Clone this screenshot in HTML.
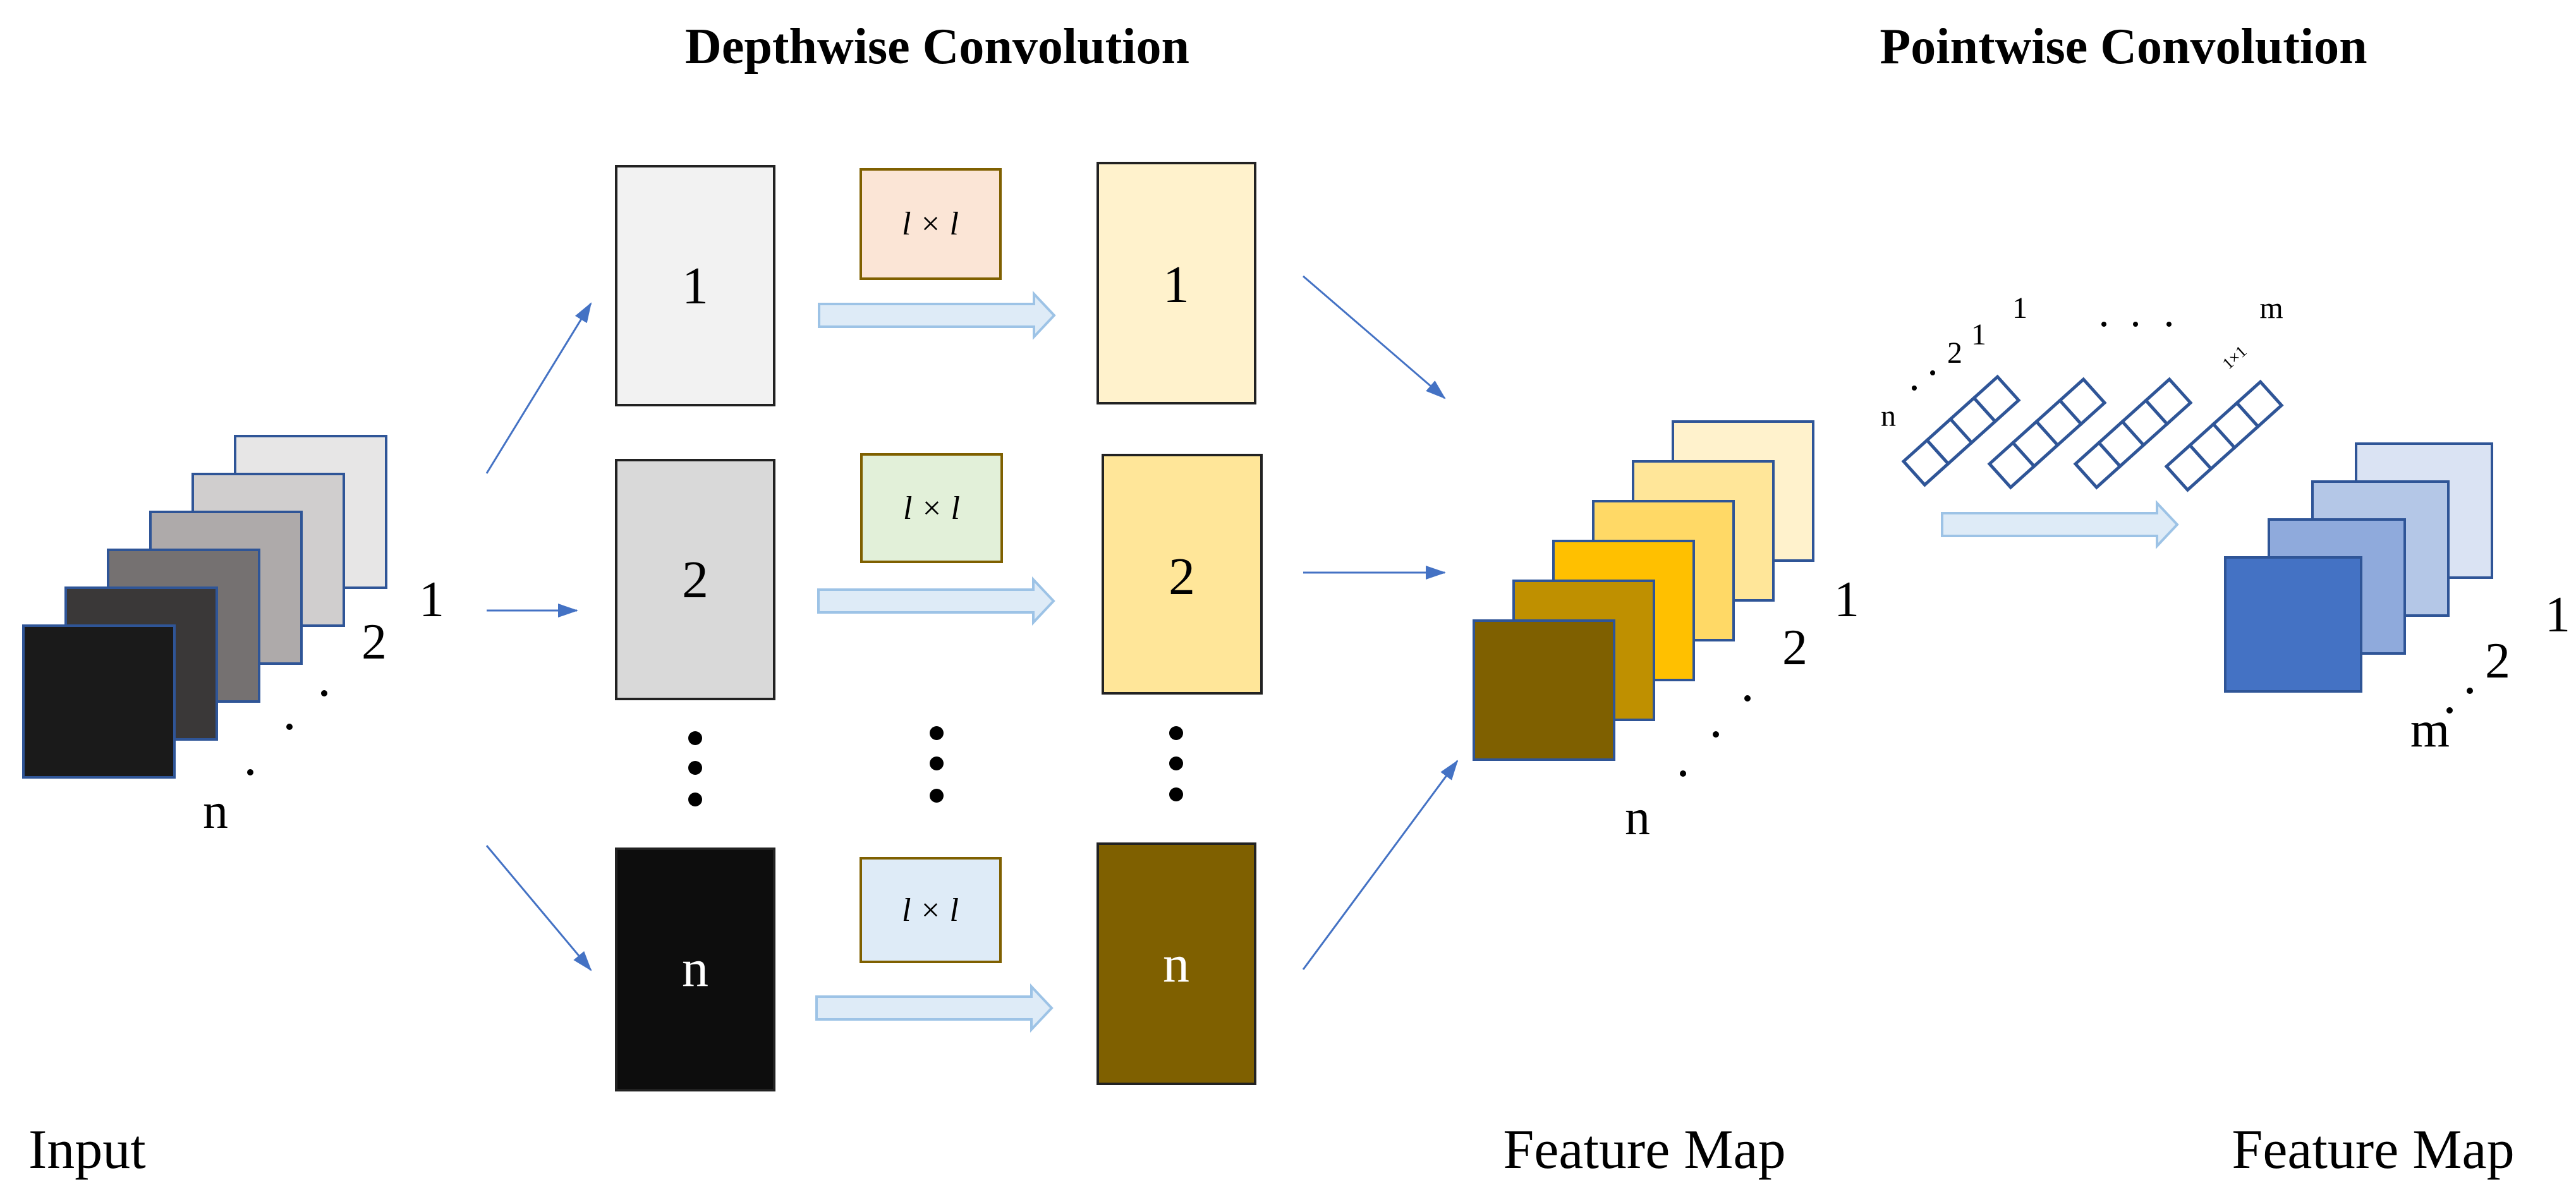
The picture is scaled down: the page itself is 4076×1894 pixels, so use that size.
<!DOCTYPE html>
<html><head><meta charset="utf-8"><style>
html,body{margin:0;padding:0;background:#fff}
svg{display:block}
text{font-family:"Liberation Serif",serif;fill:#000}
</style></head><body>
<svg width="4076" height="1894" viewBox="0 0 4076 1894" xmlns="http://www.w3.org/2000/svg">
<defs>
<marker id="ah" viewBox="0 0 32 22" refX="30" refY="11" markerWidth="32" markerHeight="22" orient="auto" markerUnits="userSpaceOnUse">
<path d="M0,0 L32,11 L0,22 z" fill="#4472c4"/>
</marker>
<g id="fat">
<path d="M0,-18 L340,-18 L340,-34 L372,0 L340,34 L340,18 L0,18 z" fill="#deebf7" stroke="#9dc3e6" stroke-width="4"/>
</g>
<g id="strip">
<rect x="0" y="0" width="50" height="50" fill="#fff" stroke="#2f5597" stroke-width="5"/>
<rect x="50" y="0" width="50" height="50" fill="#fff" stroke="#2f5597" stroke-width="5"/>
<rect x="100" y="0" width="50" height="50" fill="#fff" stroke="#2f5597" stroke-width="5"/>
<rect x="150" y="0" width="50" height="50" fill="#fff" stroke="#2f5597" stroke-width="5"/>
</g>
</defs>

<!-- Titles -->
<text x="1483" y="100" font-size="80" font-weight="bold" text-anchor="middle">Depthwise Convolution</text>
<text x="3360" y="100" font-size="80" font-weight="bold" text-anchor="middle">Pointwise Convolution</text>

<!-- Input stack -->
<g stroke="#2f5597" stroke-width="4">
<rect x="372" y="690" width="239" height="240" fill="#e7e6e6"/>
<rect x="305" y="750" width="239" height="240" fill="#d0cece"/>
<rect x="238" y="810" width="239" height="240" fill="#aeaaaa"/>
<rect x="171" y="870" width="239" height="240" fill="#757171"/>
<rect x="104" y="930" width="239" height="240" fill="#3a3838"/>
<rect x="37" y="990" width="239" height="240" fill="#1a1a1a"/>
</g>
<text x="683" y="975" font-size="80" text-anchor="middle">1</text>
<text x="592" y="1042" font-size="80" text-anchor="middle">2</text>
<circle cx="513" cy="1097" r="5"/><circle cx="458" cy="1150" r="5"/><circle cx="396" cy="1222" r="5"/>
<text x="341" y="1310" font-size="80" text-anchor="middle">n</text>

<!-- input arrows -->
<g stroke="#4472c4" stroke-width="3" marker-end="url(#ah)">
<line x1="770" y1="749" x2="935" y2="480"/>
<line x1="770" y1="966" x2="913" y2="966"/>
<line x1="770" y1="1338" x2="935" y2="1535"/>
</g>

<!-- Column 1 -->
<g stroke="#222" stroke-width="4">
<rect x="975" y="263" width="250" height="378" fill="#f2f2f2"/>
<rect x="975" y="728" width="250" height="378" fill="#d9d9d9"/>
<rect x="975" y="1343" width="250" height="382" fill="#0d0d0d"/>
</g>
<text x="1100" y="480" font-size="84" text-anchor="middle">1</text>
<text x="1100" y="945" font-size="84" text-anchor="middle">2</text>
<text x="1100" y="1560" font-size="84" text-anchor="middle" style="fill:#fff">n</text>
<circle cx="1100" cy="1168" r="11"/><circle cx="1100" cy="1215" r="11"/><circle cx="1100" cy="1265" r="11"/>

<!-- kernels -->
<g stroke="#7f6000" stroke-width="4">
<rect x="1362" y="268" width="221" height="173" fill="#fbe5d6"/>
<rect x="1363" y="719" width="222" height="170" fill="#e2f0d9"/>
<rect x="1362" y="1358" width="221" height="164" fill="#deebf7"/>
</g>
<g font-size="52" font-style="italic" text-anchor="middle">
<text x="1472" y="371">l × l</text>
<text x="1474" y="821">l × l</text>
<text x="1472" y="1457">l × l</text>
</g>
<circle cx="1482" cy="1160" r="11"/><circle cx="1482" cy="1208" r="11"/><circle cx="1482" cy="1259" r="11"/>

<use href="#fat" x="1296" y="499"/>
<use href="#fat" x="1295" y="951"/>
<use href="#fat" x="1292" y="1595"/>

<!-- Column 2 -->
<g stroke="#222" stroke-width="4">
<rect x="1737" y="258" width="249" height="380" fill="#fff2cc"/>
<rect x="1745" y="720" width="251" height="377" fill="#ffe699"/>
<rect x="1737" y="1335" width="249" height="380" fill="#7f6000"/>
</g>
<text x="1861" y="478" font-size="84" text-anchor="middle">1</text>
<text x="1870" y="940" font-size="84" text-anchor="middle">2</text>
<text x="1861" y="1553" font-size="84" text-anchor="middle" style="fill:#fff">n</text>
<circle cx="1861" cy="1160" r="11"/><circle cx="1861" cy="1208" r="11"/><circle cx="1861" cy="1257" r="11"/>

<!-- arrows to feature map -->
<g stroke="#4472c4" stroke-width="3" marker-end="url(#ah)">
<line x1="2062" y1="437" x2="2286" y2="630"/>
<line x1="2062" y1="906" x2="2286" y2="906"/>
<line x1="2062" y1="1534" x2="2306" y2="1204"/>
</g>

<!-- Feature map stack -->
<g stroke="#2f5597" stroke-width="4">
<rect x="2647" y="667" width="222" height="220" fill="#fff2cc"/>
<rect x="2584" y="730" width="222" height="220" fill="#ffe699"/>
<rect x="2521" y="793" width="222" height="220" fill="#ffd966"/>
<rect x="2458" y="856" width="222" height="220" fill="#ffc000"/>
<rect x="2395" y="919" width="222" height="220" fill="#bf9000"/>
<rect x="2332" y="982" width="222" height="220" fill="#7f6000"/>
</g>
<text x="2922" y="975" font-size="80" text-anchor="middle">1</text>
<text x="2840" y="1051" font-size="80" text-anchor="middle">2</text>
<circle cx="2765" cy="1105" r="5"/><circle cx="2715" cy="1162" r="5"/><circle cx="2663" cy="1224" r="5"/>
<text x="2591" y="1320" font-size="80" text-anchor="middle">n</text>

<!-- pointwise kernels -->
<use href="#strip" transform="translate(3012,730) rotate(-42)"/>
<use href="#strip" transform="translate(3148,734) rotate(-42)"/>
<use href="#strip" transform="translate(3284,734) rotate(-42)"/>
<use href="#strip" transform="translate(3428,738) rotate(-42)"/>
<g font-size="48" text-anchor="middle">
<text x="2988" y="674">n</text>
<text x="3093" y="574">2</text>
<text x="3131" y="545">1</text>
<text x="3196" y="503">1</text>
<text x="3594" y="503">m</text>
<text x="3536" y="574" font-size="26" transform="rotate(-42 3536 566)">1×1</text>
</g>
<circle cx="3029" cy="614" r="4"/><circle cx="3058" cy="590" r="4"/>
<circle cx="3329" cy="513" r="4"/><circle cx="3379" cy="513" r="4"/><circle cx="3432" cy="513" r="4"/>

<use href="#fat" x="3073" y="830"/>

<!-- output stack -->
<g stroke="#2f5597" stroke-width="4">
<rect x="3728" y="702" width="215" height="212" fill="#dae3f3"/>
<rect x="3659" y="762" width="215" height="212" fill="#b4c7e7"/>
<rect x="3590" y="822" width="215" height="212" fill="#8faadc"/>
<rect x="3521" y="882" width="215" height="212" fill="#4472c4"/>
</g>
<text x="4047" y="999" font-size="80" text-anchor="middle">1</text>
<text x="3952" y="1072" font-size="80" text-anchor="middle">2</text>
<circle cx="3908" cy="1093" r="5"/><circle cx="3876" cy="1124" r="5"/>
<text x="3845" y="1181" font-size="80" text-anchor="middle">m</text>

<!-- bottom labels -->
<text x="45" y="1848" font-size="88">Input</text>
<text x="2602" y="1848" font-size="88" text-anchor="middle">Feature Map</text>
<text x="3755" y="1848" font-size="88" text-anchor="middle">Feature Map</text>
</svg>
</body></html>
